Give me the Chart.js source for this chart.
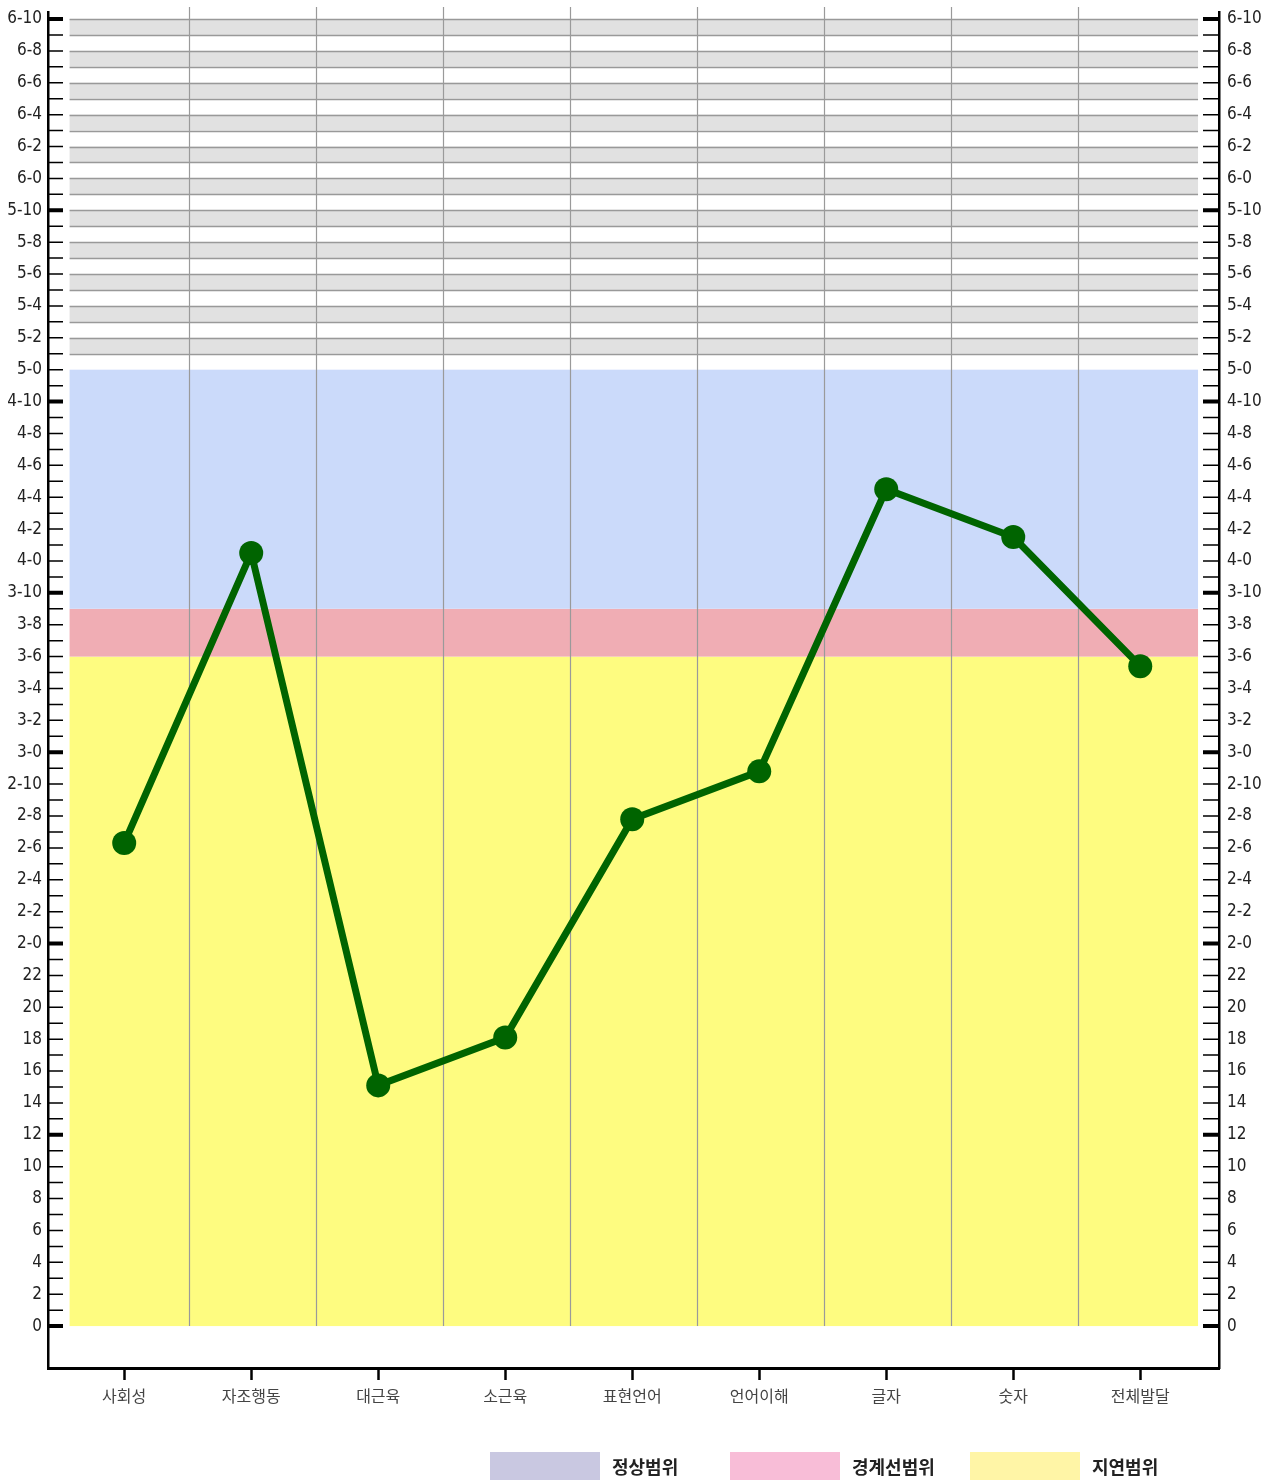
<!DOCTYPE html>
<html lang="ko">
<head>
<meta charset="utf-8">
<title>발달 프로파일</title>
<script src="https://cdn.jsdelivr.net/npm/chart.js@4.4.1/dist/chart.umd.min.js"></script>
<style>
  html, body { margin: 0; padding: 0; background: #fff; }
  #wrap { position: relative; width: 1270px; height: 1481px; }
  #chart { display: block; }
  .legend { position: absolute; left: 490px; top: 1452px; height: 28px; display: flex;
            font-family: "Noto Sans CJK KR", sans-serif; font-weight: 700; font-size: 18px; color: #222; }
  .legend__item { display: flex; align-items: center; width: 240px; }
  .legend__swatch { width: 110px; height: 28px; margin-right: 12px; }
</style>
</head>
<body>
<div id="wrap">
  <canvas id="chart" width="1270" height="1481"></canvas>
  <div class="legend" id="legend"></div>
</div>
<script>
// ── Data ──
const categories   = ['사회성', '자조행동', '대근육', '소근육', '표현언어', '언어이해', '글자', '숫자', '전체발달'];
const devAgeMonths = [30.3, 48.5, 15.1, 18.1, 31.8, 34.8, 52.5, 49.5, 41.4];

// tick labels for every 2 months, 0 .. 82 (6-10)
const tickMonths = [0, 2, 4, 6, 8, 10, 12, 14, 16, 18, 20, 22, 24, 26, 28, 30, 32, 34, 36, 38, 40,
                    42, 44, 46, 48, 50, 52, 54, 56, 58, 60, 62, 64, 66, 68, 70, 72, 74, 76, 78, 80, 82];
const tickLabels = ['0', '2', '4', '6', '8', '10', '12', '14', '16', '18', '20', '22',
                    '2-0', '2-2', '2-4', '2-6', '2-8', '2-10', '3-0', '3-2', '3-4', '3-6', '3-8', '3-10',
                    '4-0', '4-2', '4-4', '4-6', '4-8', '4-10', '5-0', '5-2', '5-4', '5-6', '5-8', '5-10',
                    '6-0', '6-2', '6-4', '6-6', '6-8', '6-10'];
const majorTickMonths = [0, 12, 24, 36, 46, 58, 70, 82];

// shaded ranges (months)
const delayRange      = [0, 42];
const borderlineRange = [42, 45];
const normalRange     = [45, 60];
const stripeRange     = [61, 82];

const legendLabels = ['정상범위', '경계선범위', '지연범위'];
const legendColors = ['#c9c8e1', '#f8bdd7', '#fff5a6'];

// ══════════════════════════════════════════════
// PLUGINS
// ══════════════════════════════════════════════
const BAND_LEFT = -0.43, BAND_RIGHT = 8.455, DIVIDER_OFFSET = 0.51;

const backgroundPlugin = {
  id: 'background',
  beforeDatasetsDraw(chart) {
    const { ctx, chartArea, scales: { x, y } } = chart;
    const x0 = x.getPixelForValue(BAND_LEFT);
    const x1 = x.getPixelForValue(BAND_RIGHT);
    ctx.save();

    // range bands
    [[delayRange, '#fefc80'], [borderlineRange, '#f0adb4'], [normalRange, '#cbdafa']].forEach(([r, c]) => {
      const top = y.getPixelForValue(r[1]);
      const bot = y.getPixelForValue(r[0]);
      ctx.fillStyle = c;
      ctx.fillRect(x0, top, x1 - x0, bot - top);
    });

    // grey stripes above 5-0
    for (let m = stripeRange[0]; m < stripeRange[1]; m++) {
      if ((stripeRange[1] - m) % 2 === 1) {
        const top = y.getPixelForValue(m + 1);
        const bot = y.getPixelForValue(m);
        ctx.fillStyle = '#e1e1e1';
        ctx.fillRect(x0, top, x1 - x0, bot - top);
      }
    }
    ctx.strokeStyle = '#999';
    ctx.lineWidth = 1.5;
    for (let m = stripeRange[0]; m <= stripeRange[1]; m++) {
      const py = Math.round(y.getPixelForValue(m)) + 0.5;
      ctx.beginPath();
      ctx.moveTo(x0, py);
      ctx.lineTo(x1, py);
      ctx.stroke();
    }

    // vertical dividers between categories
    ctx.strokeStyle = '#9a9a9a';
    ctx.lineWidth = 1.2;
    const yBottom = y.getPixelForValue(0);
    for (let i = 0; i < categories.length - 1; i++) {
      const px = Math.round(x.getPixelForValue(i + DIVIDER_OFFSET)) + 0.5;
      ctx.beginPath();
      ctx.moveTo(px, chartArea.top - 5);
      ctx.lineTo(px, yBottom);
      ctx.stroke();
    }
    ctx.restore();
  },
  afterDraw(chart) {
    // inward month ticks on both y axes
    const { ctx, chartArea, scales: { y } } = chart;
    ctx.save();
    ctx.strokeStyle = '#000';
    for (let m = 0; m <= 82; m++) {
      const major = majorTickMonths.includes(m);
      const py = y.getPixelForValue(m);
      ctx.lineWidth = major ? 4 : 1.5;
      ctx.beginPath();
      ctx.moveTo(chartArea.left, py);
      ctx.lineTo(chartArea.left + 15, py);
      ctx.moveTo(chartArea.right - 16, py);
      ctx.lineTo(chartArea.right, py);
      ctx.stroke();
    }
    ctx.restore();
  }
};

// ══════════════════════════════════════════════
// CHART
// ══════════════════════════════════════════════
const yFont = { family: "'Liberation Sans Narrow', 'DejaVu Sans Condensed', 'Liberation Sans', sans-serif", size: 17 };

function monthTicks(scale) {
  const out = [];
  for (let m = 0; m <= 82; m++) out.push({ value: m });
  scale.ticks = out;
}
function monthLabel(v) {
  const i = tickMonths.indexOf(v);
  return i >= 0 ? tickLabels[i] : '';
}
function fitY(width) {
  return (scale) => {
    scale.width = width;
    scale.paddingTop = 0;
    scale.paddingBottom = 0;
  };
}

const yAxisBase = {
  type: 'linear',
  min: -2.63,
  max: 82.44,
  afterBuildTicks: monthTicks,
  grid: { display: false, drawTicks: false },
  border: { display: true, color: '#000', width: 2.5 },
  ticks: { callback: monthLabel, autoSkip: false, color: '#222', font: yFont, padding: 6 },
};

new Chart(document.getElementById('chart'), {
  type: 'line',
  data: {
    datasets: [{
      data: devAgeMonths.map((v, i) => ({ x: i, y: v })),
      borderColor: '#006400',
      borderWidth: 7,
      pointRadius: 12,
      pointHoverRadius: 12,
      pointBackgroundColor: '#006400',
      pointBorderWidth: 0,
      tension: 0,
      clip: false,
    }]
  },
  options: {
    responsive: false,
    animation: false,
    devicePixelRatio: 1,
    layout: { padding: { top: 0, left: 0, right: 0, bottom: 0 } },
    plugins: { legend: { display: false }, tooltip: { enabled: false } },
    scales: {
      x: {
        type: 'linear',
        min: -0.6,
        max: 8.62,
        afterBuildTicks: (scale) => { scale.ticks = categories.map((_, i) => ({ value: i })); },
        afterFit: (scale) => { scale.height = 113; scale.paddingLeft = 0; scale.paddingRight = 0; },
        grid: { drawOnChartArea: false, drawTicks: true, tickLength: 12, tickWidth: 2.5, tickColor: '#000' },
        border: { display: true, color: '#000', width: 3 },
        ticks: {
          callback: (v) => categories[v],
          autoSkip: false, maxRotation: 0, padding: 6,
          color: '#444',
          font: { family: "'Noto Sans CJK KR', sans-serif", size: 16 },
        },
      },
      y: Object.assign({}, yAxisBase, {
        position: 'left',
        afterFit: fitY(48),
      }),
      y2: Object.assign({}, yAxisBase, {
        position: 'right',
        afterFit: fitY(51),
        ticks: Object.assign({}, yAxisBase.ticks, { padding: 8 }),
      }),
    },
  },
  plugins: [backgroundPlugin],
});

// ── HTML legend ──
document.getElementById('legend').innerHTML = legendLabels.map((l, i) => `
  <div class="legend__item">
    <div class="legend__swatch" style="background:${legendColors[i]}"></div>
    <span>${l}</span>
  </div>`).join('');
</script>
</body>
</html>
